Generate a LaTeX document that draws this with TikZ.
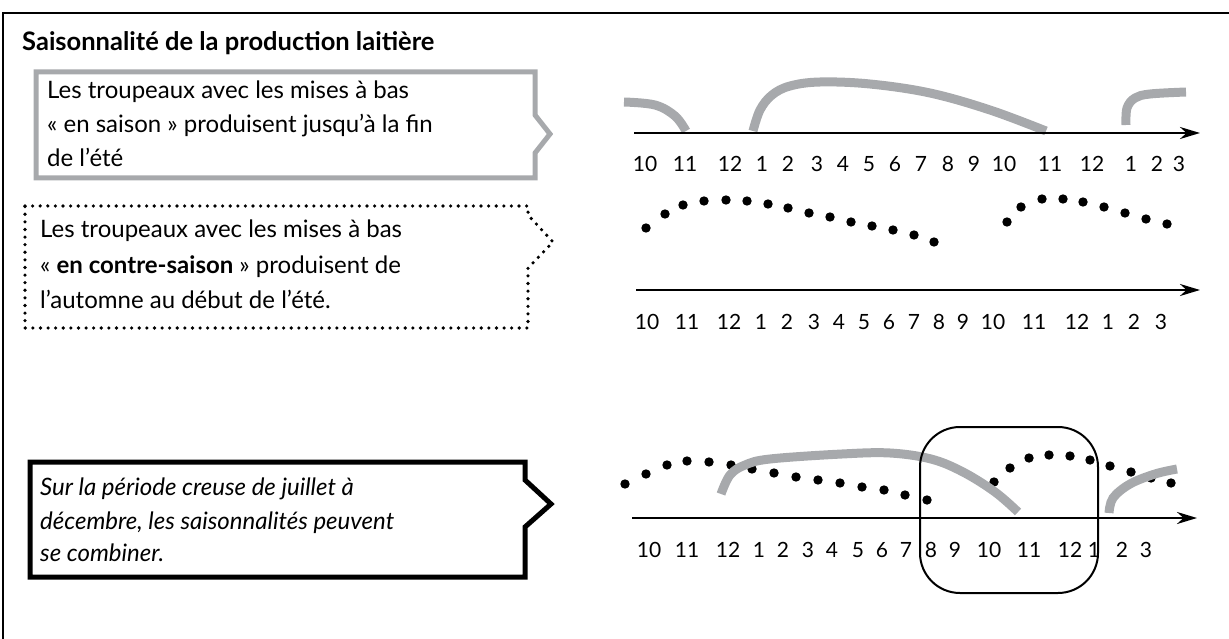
\documentclass[tikz,border=0pt]{standalone}
\usepackage{fontspec}
\setmainfont{Lato}
\usetikzlibrary{arrows.meta}
\definecolor{lgray}{RGB}{167,169,172}
\begin{document}
\begin{tikzpicture}[x=1pt,y=-1pt,
  txt/.style={anchor=base west, inner sep=0pt, font=\fontsize{24}{29}\selectfont},
  itxt/.style={anchor=base west, inner sep=0pt, font=\fontsize{24}{29}\selectfont\itshape},
  ttl/.style={anchor=base west, inner sep=0pt, font=\fontsize{25.5}{30}\selectfont\bfseries},
  lab/.style={anchor=base, inner sep=0pt, font=\fontsize{21}{25}\selectfont},
  axisline/.style={line width=2.4pt, -{Stealth[length=20pt,width=12pt]}},
  grayline/.style={lgray, line width=9pt},
  box1/.style={lgray, line width=5pt},
  box2/.style={black, line width=3.6pt, line cap=round, dash pattern=on 0pt off 7.6pt},
  box3/.style={black, line width=5pt},
  hlbox/.style={draw, line width=2pt, rounded corners=40pt, minimum width=178pt, minimum height=166pt, inner sep=0pt}]
\useasboundingbox (0,0) rectangle (1229,639);
% outer frame
\draw[line width=2.2pt] (3,639) -- (3,13) -- (1229,13);
\node[ttl] (title) at (22,51) {Saisonnalité de la production laitière};
% box 1
\draw[box1] (36,72) -- (535,72) -- (535,115) -- (550,134) -- (535,153) -- (535,178) -- (36,178) -- cycle;
\node[txt] (t1a) at (47,99) {Les troupeaux avec les mises à bas};
\node[txt] (t1b) at (47,133) {« en saison » produisent jusqu’à la fin};
\node[txt] (t1c) at (47,167) {de l’été};
% box 2
\draw[box2] (25,206) -- (528,206) -- (528,215) -- (553,242) -- (528,268) -- (528,328) -- (25,328) -- cycle;
\node[txt] (t2a) at (40,238) {Les troupeaux avec les mises à bas};
\node[txt] (t2b) at (40,273) {« \textbf{en contre-saison} » produisent de};
\node[txt] (t2c) at (40,308) {l’automne au début de l’été.};
% box 3
\draw[box3] (30,462) -- (525,462) -- (525,480) -- (551,504) -- (525,527) -- (525,577) -- (30,577) -- cycle;
\node[itxt] (t3a) at (40,495) {Sur la période creuse de juillet à};
\node[itxt] (t3b) at (40,529) {décembre, les saisonnalités peuvent};
\node[itxt] (t3c) at (40,561) {se combiner.};
% ---------- top graph
\coordinate (a1s) at (634,133);
\coordinate (a1e) at (1200,133);
\draw[grayline] plot[smooth, tension=0.6] coordinates {(624,102) (655,105) (675,116) (686,131)};
\draw[grayline] plot[smooth, tension=0.6] coordinates {(753,131) (760,110) (772,95) (790,86) (820,82) (870,84) (930,93) (990,110) (1046,131)};
\draw[grayline] plot[smooth, tension=0.6] coordinates {(1126,125) (1127,108) (1135,98) (1150,94) (1186,92)};
\draw[axisline] (a1s) -- (a1e);
\foreach \x/\t [count=\i] in {645/10,685/11,730/12,762/1,788/2,817/3,843/4,869/5,895/6,921/7,948/8,974/9,1004/10,1050/11,1092/12,1131/1,1157/2,1179/3}
  \node[lab] (la\i) at (\x,172) {\t};
% ---------- middle graph
\coordinate (a2s) at (636,290);
\coordinate (a2e) at (1200,290);
\foreach \x/\y in {646/228,665/214,683/205,704/201,726/200,747/201,768/204,788/208,809/213,830/217,851/222,872/226,893/230,914/235,934/242,
  1007/222,1021/207,1042/199,1063/199,1083/202,1104/207,1125/213,1146/219,1167/224}
  \fill (\x,\y) circle[radius=4.7pt];
\draw[axisline] (a2s) -- (a2e);
\foreach \x/\t [count=\i] in {647/10,687/11,729/12,761/1,787/2,814/3,839/4,864/5,889/6,914/7,939/8,963/9,993/10,1034/11,1077/12,1108/1,1134/2,1161/3}
  \node[lab] (lb\i) at (\x,329) {\t};
% ---------- bottom graph
\coordinate (a3s) at (632,518);
\coordinate (a3e) at (1197,518);
\foreach \x/\y in {625/484,646/474,667/465,687/461,709/462,731/465,752/469,774/473,796/477,818/480,840/483,862/487,884/490,905/495,927/500,
  994/482,1010/468,1029/458,1049/455,1070/456,1090/460,1110/466,1131/472,1151/478,1171/483}
  \fill (\x,\y) circle[radius=4.7pt];
\draw[grayline] plot[smooth, tension=0.6] coordinates {(721,494) (730,475) (745,465) (770,459) (842,454) (890,453) (931,459) (963,472) (995,492) (1018,512)};
\draw[grayline] plot[smooth, tension=0.6] coordinates {(1109,513) (1113,498) (1130,484) (1155,474) (1177,469)};
\draw[axisline] (a3s) -- (a3e);
\foreach \x/\t [count=\i] in {649/10,687/11,728/12,759/1,783/2,808/3,832/4,858/5,882/6,906/7,931/8,955/9,989/10,1029/11,1070/12,1094/1,1122/2,1146/3}
  \node[lab] (lc\i) at (\x,557) {\t};
\node[hlbox] (hl) at (1009,510) {};
\end{tikzpicture}
\end{document}
